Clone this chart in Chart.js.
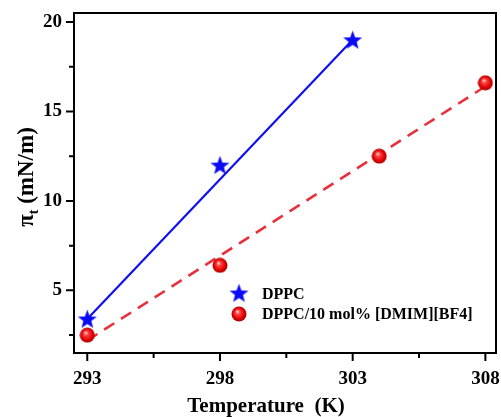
<!DOCTYPE html>
<html>
<head>
<meta charset="utf-8">
<script src="https://cdn.jsdelivr.net/npm/chart.js@4/dist/chart.umd.min.js"></script>
<style>
  html, body { margin: 0; padding: 0; background: #fff; }
  #wrap { width: 501px; height: 417px; }
</style>
</head>
<body>
<div id="wrap"><canvas id="myChart" width="501" height="417"></canvas></div>
<script>
// Data
const dppcTemp = [293, 298, 303];
const dppcPi = [3.4, 12.0, 19.0];
const ilTemp = [293, 298, 304, 308];
const ilPi = [2.5, 6.4, 12.5, 16.6];

// Fitted lines (end points)
const dppcFitTemp = [293, 303];
const dppcFitPi = [3.4, 19.0];
const ilFitTemp = [293, 308];
const ilFitPi = [2.2, 16.4];

// Axis ticks
const xMajor = [293, 298, 303, 308];
const xMinor = [295.5, 300.5, 305.5];
const yMajor = [5, 10, 15, 20];
const yMinor = [2.5, 7.5, 12.5, 17.5];

const labels = ['DPPC', 'DPPC/10 mol% [DMIM][BF4]'];
const xTitle = 'Temperature  (K)';
const serif = "'Liberation Serif', 'Times New Roman', serif";

// Filled five pointed star marker
function makeStar(size, color) {
    const c = document.createElement('canvas');
    c.width = size; c.height = size;
    const g = c.getContext('2d');
    const cx = size / 2, cy = size / 2 + 0.8, R = size / 2 - 0.5, r = R * 0.42;
    g.beginPath();
    for (let i = 0; i < 10; i++) {
        const a = -Math.PI / 2 + i * Math.PI / 5;
        const rad = i % 2 === 0 ? R : r;
        g.lineTo(cx + rad * Math.cos(a), cy + rad * Math.sin(a));
    }
    g.closePath();
    g.fillStyle = color;
    g.fill();
    return c;
}

// Shiny red ball marker
function makeBall(size) {
    const c = document.createElement('canvas');
    c.width = size; c.height = size;
    const g = c.getContext('2d');
    const r = size / 2 - 0.5;
    const grad = g.createRadialGradient(size * 0.4, size * 0.35, 0.5, size / 2, size / 2, r);
    grad.addColorStop(0, '#ffd0d0');
    grad.addColorStop(0.25, '#ff4040');
    grad.addColorStop(0.75, '#e00000');
    grad.addColorStop(1, '#a00000');
    g.beginPath();
    g.arc(size / 2, size / 2, r, 0, Math.PI * 2);
    g.fillStyle = grad;
    g.fill();
    return c;
}

const starImg = makeStar(21, '#0a0af5');
const ballImg = makeBall(16);

const toPoints = (xs, ys) => xs.map((x, i) => ({ x: x, y: ys[i] }));

// Frame, minor/major ticks, axis titles and legend
const decorations = {
    id: 'decorations',
    afterDraw(chart) {
        const ctx = chart.ctx;
        const a = chart.chartArea;
        const xs = chart.scales.x, ys = chart.scales.y;
        ctx.save();
        ctx.strokeStyle = '#000';
        ctx.lineWidth = 2;
        ctx.strokeRect(a.left, a.top, a.right - a.left, a.bottom - a.top);

        ctx.beginPath();
        xMajor.forEach(v => { const p = xs.getPixelForValue(v); ctx.moveTo(p, a.bottom); ctx.lineTo(p, a.bottom + 8); });
        xMinor.forEach(v => { const p = xs.getPixelForValue(v); ctx.moveTo(p, a.bottom); ctx.lineTo(p, a.bottom + 5); });
        yMajor.forEach(v => { const p = ys.getPixelForValue(v); ctx.moveTo(a.left, p); ctx.lineTo(a.left - 8, p); });
        yMinor.forEach(v => { const p = ys.getPixelForValue(v); ctx.moveTo(a.left, p); ctx.lineTo(a.left - 5, p); });
        ctx.stroke();

        // x title
        ctx.fillStyle = '#000';
        ctx.font = 'bold 21px ' + serif;
        ctx.textAlign = 'center';
        ctx.textBaseline = 'alphabetic';
        ctx.fillText(xTitle, 266, 412);

        // y title: pi with subscript t
        ctx.textAlign = 'left';
        ctx.translate(25, 177);
        ctx.rotate(-Math.PI / 2);
        const big = 'bold 23px ' + serif, small = 'bold 14px ' + serif;
        const rest = ' (mN/m)';
        ctx.font = big;
        const wPi = ctx.measureText('\u03c0').width;
        const wRest = ctx.measureText(rest).width;
        ctx.font = small;
        const wT = ctx.measureText('t').width;
        let x0 = -(wPi + wT + wRest) / 2;
        ctx.font = big;
        ctx.fillText('\u03c0', x0, 8);
        ctx.font = small;
        ctx.fillText('t', x0 + wPi, 13);
        ctx.font = big;
        ctx.fillText(rest, x0 + wPi + wT, 8);
        ctx.restore();

        // legend
        ctx.save();
        ctx.font = 'bold 16px ' + serif;
        ctx.fillStyle = '#000';
        ctx.textBaseline = 'middle';
        ctx.drawImage(starImg, 239 - starImg.width / 2, 293 - starImg.height / 2);
        ctx.fillText(labels[0], 262, 295);
        ctx.drawImage(ballImg, 239 - ballImg.width / 2, 314 - ballImg.height / 2);
        ctx.fillText(labels[1], 262, 315);
        ctx.restore();
    }
};

new Chart(document.getElementById('myChart'), {
    type: 'scatter',
    data: {
        datasets: [
            {
                label: labels[0],
                data: toPoints(dppcTemp, dppcPi),
                pointStyle: starImg,
                showLine: false,
                order: 1
            },
            {
                label: labels[1],
                data: toPoints(ilTemp, ilPi),
                pointStyle: ballImg,
                showLine: false,
                order: 1
            },
            {
                label: 'DPPC fit',
                data: toPoints(dppcFitTemp, dppcFitPi),
                showLine: true,
                borderColor: '#1010f0',
                borderWidth: 2.2,
                pointRadius: 0,
                order: 2
            },
            {
                label: 'IL fit',
                data: toPoints(ilFitTemp, ilFitPi),
                showLine: true,
                borderColor: '#e8303c',
                borderWidth: 2.6,
                borderDash: [12, 8],
                pointRadius: 0,
                order: 2
            }
        ]
    },
    options: {
        responsive: false,
        animation: false,
        layout: { padding: { top: 13, right: 4, left: 0, bottom: 0 } },
        plugins: {
            legend: { display: false },
            tooltip: { enabled: false }
        },
        scales: {
            x: {
                type: 'linear',
                min: 292.5,
                max: 308.4,
                afterFit: s => { s.height = 64; s.paddingLeft = 0; s.paddingRight = 0; },
                afterBuildTicks: s => { s.ticks = xMajor.map(v => ({ value: v })); },
                grid: { display: false },
                border: { display: false },
                ticks: {
                    padding: 7,
                    color: '#000',
                    font: { family: serif, size: 19, weight: 'bold' },
                    maxRotation: 0
                }
            },
            y: {
                type: 'linear',
                min: 1.5,
                max: 20.5,
                afterFit: s => { s.width = 74; s.paddingTop = 0; s.paddingBottom = 0; },
                afterBuildTicks: s => { s.ticks = yMajor.map(v => ({ value: v })); },
                grid: { display: false },
                border: { display: false },
                ticks: {
                    padding: 4,
                    color: '#000',
                    font: { family: serif, size: 19, weight: 'bold' }
                }
            }
        }
    },
    plugins: [decorations]
});
</script>
</body>
</html>
